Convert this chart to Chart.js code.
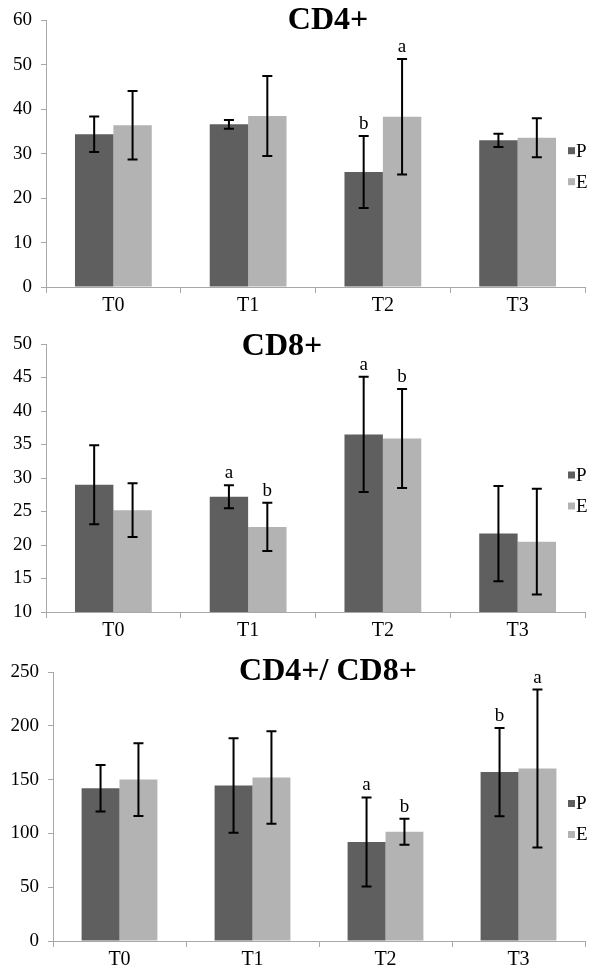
<!DOCTYPE html>
<html>
<head>
<meta charset="utf-8">
<script src="https://cdn.jsdelivr.net/npm/chart.js@4/dist/chart.umd.min.js"></script>
<style>
    body { margin: 0; background: #ffffff; }
    .panel { position: absolute; left: 0; }
</style>
</head>
<body>
<div class="panel" style="top:0px"><canvas id="cd4-chart" width="600" height="320"></canvas></div>
<div class="panel" style="top:320px"><canvas id="cd8-chart" width="600" height="325"></canvas></div>
<div class="panel" style="top:645px"><canvas id="ratio-chart" width="600" height="329"></canvas></div>
<script>
const timePoints = ['T0', 'T1', 'T2', 'T3'];
const seriesNames = ['P', 'E'];

// CD4+
const cd4P = [34.4, 36.6, 25.9, 33.0];
const cd4PErr = [4.0, 1.0, 8.1, 1.5];
const cd4E = [36.4, 38.5, 38.3, 33.6];
const cd4EErr = [7.7, 9.0, 13.0, 4.4];
const cd4PLetters = ['', '', 'b', ''];
const cd4ELetters = ['', '', 'a', ''];
const cd4Ticks = [0, 10, 20, 30, 40, 50, 60];

// CD8+
const cd8P = [29.0, 27.2, 36.5, 21.7];
const cd8PErr = [5.9, 1.7, 8.6, 7.1];
const cd8E = [25.2, 22.7, 35.9, 20.5];
const cd8EErr = [4.0, 3.6, 7.4, 7.9];
const cd8PLetters = ['', 'a', 'a', ''];
const cd8ELetters = ['', 'b', 'b', ''];
const cd8Ticks = [10, 15, 20, 25, 30, 35, 40, 45, 50];

// CD4+/ CD8+
const ratioP = [142, 144.5, 92, 157];
const ratioPErr = [21.6, 44, 41.4, 41];
const ratioE = [150, 152, 101.5, 160.3];
const ratioEErr = [33.8, 43, 12, 73.4];
const ratioPLetters = ['', '', 'a', 'b'];
const ratioELetters = ['', '', 'b', 'a'];
const ratioTicks = [0, 50, 100, 150, 200, 250];

const colorP = '#5f5f5f';
const colorE = '#b3b3b3';
const axisColor = '#a8a8a8';
const serif = "'Liberation Serif', 'Times New Roman', serif";

// error bars + the a/b letters above them
const errorBarPlugin = {
    id: 'errorBars',
    afterDatasetsDraw(chart) {
        const ctx = chart.ctx;
        const yScale = chart.scales.y;
        ctx.save();
        chart.data.datasets.forEach((ds, i) => {
            const meta = chart.getDatasetMeta(i);
            meta.data.forEach((bar, j) => {
                const v = ds.data[j];
                const top = yScale.getPixelForValue(v + ds.errors[j]);
                const bottom = yScale.getPixelForValue(v - ds.errors[j]);
                ctx.strokeStyle = '#000000';
                ctx.lineWidth = 2;
                ctx.beginPath();
                ctx.moveTo(bar.x, top);
                ctx.lineTo(bar.x, bottom);
                ctx.moveTo(bar.x - 5, top);
                ctx.lineTo(bar.x + 5, top);
                ctx.moveTo(bar.x - 5, bottom);
                ctx.lineTo(bar.x + 5, bottom);
                ctx.stroke();
                if (ds.letters[j]) {
                    ctx.fillStyle = '#000000';
                    ctx.font = '19px ' + serif;
                    ctx.textAlign = 'center';
                    ctx.textBaseline = 'middle';
                    ctx.fillText(ds.letters[j], bar.x, top - 12);
                }
            });
        });
        ctx.restore();
    }
};

// title and legend are drawn by hand, Excel puts them over the plot area
const overlayPlugin = {
    id: 'overlay',
    afterDraw(chart) {
        const ctx = chart.ctx;
        const opts = chart.options.plugins.overlay;
        const area = chart.chartArea;
        ctx.save();
        ctx.fillStyle = '#000000';
        ctx.font = 'bold 32px ' + serif;
        ctx.textAlign = 'center';
        ctx.textBaseline = 'middle';
        ctx.fillText(opts.title, opts.titleX, opts.titleY);

        const mid = (area.top + area.bottom) / 2;
        chart.data.datasets.forEach((ds, i) => {
            const y = mid - 3 + i * 31;
            ctx.fillStyle = ds.backgroundColor;
            ctx.fillRect(568, y - 3.5, 7, 7);
            ctx.fillStyle = '#000000';
            ctx.font = '19px ' + serif;
            ctx.textAlign = 'left';
            ctx.fillText(ds.label, 576, y + 1);
        });
        ctx.restore();
    }
};

function renderPanel(canvasId, title, titleX, titleY, pValues, pErr, pLetters, eValues, eErr, eLetters, yTicks, axisWidth, padTop) {
    const ctx = document.getElementById(canvasId).getContext('2d');
    return new Chart(ctx, {
        type: 'bar',
        data: {
            labels: timePoints,
            datasets: [{
                label: seriesNames[0],
                data: pValues,
                errors: pErr,
                letters: pLetters,
                backgroundColor: colorP
            }, {
                label: seriesNames[1],
                data: eValues,
                errors: eErr,
                letters: eLetters,
                backgroundColor: colorE
            }]
        },
        options: {
            responsive: false,
            animation: false,
            datasets: {
                bar: {
                    categoryPercentage: 0.57,
                    barPercentage: 1.0
                }
            },
            layout: {
                padding: { top: padTop, right: 15, left: 0, bottom: 0 }
            },
            plugins: {
                legend: { display: false },
                tooltip: { enabled: false },
                overlay: { title: title, titleX: titleX, titleY: titleY }
            },
            scales: {
                x: {
                    afterFit: (scale) => { scale.height = 33; },
                    grid: {
                        drawOnChartArea: false,
                        drawTicks: true,
                        tickLength: 6,
                        color: axisColor
                    },
                    border: { color: axisColor, width: 1 },
                    ticks: {
                        color: '#000000',
                        padding: 1,
                        font: { family: serif, size: 20 }
                    }
                },
                y: {
                    min: yTicks[0],
                    max: yTicks[yTicks.length - 1],
                    afterFit: (scale) => { scale.width = axisWidth; },
                    grid: {
                        drawOnChartArea: false,
                        drawTicks: true,
                        tickLength: 5,
                        color: axisColor
                    },
                    border: { color: axisColor, width: 1 },
                    ticks: {
                        stepSize: yTicks[1] - yTicks[0],
                        color: '#000000',
                        padding: 9,
                        font: { family: serif, size: 19 }
                    }
                }
            }
        },
        plugins: [errorBarPlugin, overlayPlugin]
    });
}

renderPanel('cd4-chart', 'CD4+', 328, 21, cd4P, cd4PErr, cd4PLetters, cd4E, cd4EErr, cd4ELetters, cd4Ticks, 46, 20);
renderPanel('cd8-chart', 'CD8+', 282, 27, cd8P, cd8PErr, cd8PLetters, cd8E, cd8EErr, cd8ELetters, cd8Ticks, 46, 24);
renderPanel('ratio-chart', 'CD4+/ CD8+', 328, 27, ratioP, ratioPErr, ratioPLetters, ratioE, ratioEErr, ratioELetters, ratioTicks, 53, 27);
</script>
</body>
</html>
